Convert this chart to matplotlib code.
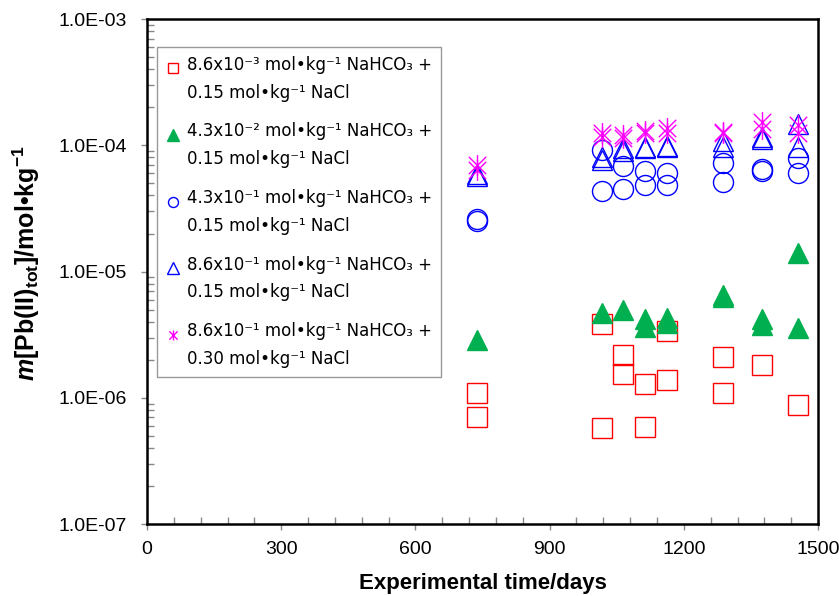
import numpy as np
import matplotlib
matplotlib.use("Agg")
import matplotlib.pyplot as plt
from matplotlib.path import Path
from matplotlib.legend_handler import HandlerLine2D
from matplotlib.lines import Line2D
from matplotlib.ticker import FixedLocator, FuncFormatter, LogLocator, NullFormatter

plt.rcParams['font.family'] = ['Liberation Sans', 'DejaVu Sans']
plt.rcParams['mathtext.fontset'] = 'custom'
plt.rcParams['mathtext.rm'] = 'Liberation Sans:bold'
plt.rcParams['mathtext.it'] = 'Liberation Sans:bold:italic'
plt.rcParams['mathtext.bf'] = 'Liberation Sans:bold'

# data: days, m[Pb(II)]tot in mol/kg
days_a = [737, 737, 1016, 1016, 1065, 1065, 1113, 1113, 1162, 1162, 1288, 1288, 1374, 1456]
pb_a = [1.10e-6, 7.0e-7, 3.82e-6, 5.76e-7, 2.18e-6, 1.55e-6, 1.29e-6, 5.87e-7,
        3.40e-6, 1.39e-6, 2.10e-6, 1.09e-6, 1.83e-6, 8.8e-7]

days_b = [737, 1016, 1065, 1113, 1113, 1162, 1162, 1288, 1288, 1374, 1374, 1456, 1456]
pb_b = [2.87e-6, 4.72e-6, 4.95e-6, 4.2e-6, 3.61e-6, 4.26e-6, 3.93e-6, 6.52e-6,
        6.24e-6, 4.18e-6, 3.77e-6, 3.55e-6, 1.39e-5]

days_c = [737, 737, 1016, 1016, 1065, 1065, 1113, 1113, 1162, 1162, 1288, 1288, 1374, 1374, 1456, 1456]
pb_c = [2.59e-5, 2.52e-5, 9.17e-5, 4.34e-5, 6.85e-5, 4.48e-5, 6.29e-5, 4.84e-5,
        6.06e-5, 4.84e-5, 7.19e-5, 5.09e-5, 6.45e-5, 6.29e-5, 7.88e-5, 6.06e-5]

days_d = [737, 737, 1016, 1016, 1065, 1065, 1113, 1113, 1162, 1162, 1288, 1288, 1374, 1374, 1456, 1456]
pb_d = [5.9e-5, 5.7e-5, 8.12e-5, 7.64e-5, 9.51e-5, 9.06e-5, 9.75e-5, 9.46e-5,
        9.93e-5, 9.64e-5, 1.08e-4, 9.75e-5, 1.16e-4, 1.12e-4, 1.47e-4, 9.75e-5]

days_e = [737, 737, 1016, 1016, 1065, 1065, 1113, 1113, 1162, 1162, 1288, 1288, 1374, 1374, 1456, 1456]
pb_e = [7.0e-5, 6.4e-5, 1.24e-4, 1.16e-4, 1.21e-4, 1.15e-4, 1.30e-4, 1.24e-4,
        1.36e-4, 1.24e-4, 1.28e-4, 1.24e-4, 1.54e-4, 1.34e-4, 1.45e-4, 1.24e-4]

labels = [
    "8.6x10\u207b\u00b3 mol\u2022kg\u207b\u00b9 NaHCO\u2083 +\n0.15 mol\u2022kg\u207b\u00b9 NaCl",
    "4.3x10\u207b\u00b2 mol\u2022kg\u207b\u00b9 NaHCO\u2083 +\n0.15 mol\u2022kg\u207b\u00b9 NaCl",
    "4.3x10\u207b\u00b9 mol\u2022kg\u207b\u00b9 NaHCO\u2083 +\n0.15 mol\u2022kg\u207b\u00b9 NaCl",
    "8.6x10\u207b\u00b9 mol\u2022kg\u207b\u00b9 NaHCO\u2083 +\n0.15 mol\u2022kg\u207b\u00b9 NaCl",
    "8.6x10\u207b\u00b9 mol\u2022kg\u207b\u00b9 NaHCO\u2083 +\n0.30 mol\u2022kg\u207b\u00b9 NaCl",
]

# asterisk like marker: an x plus a vertical bar
star = Path([(-1, -1), (1, 1), (-1, 1), (1, -1), (0, -1.2), (0, 1.2)],
            [Path.MOVETO, Path.LINETO, Path.MOVETO, Path.LINETO, Path.MOVETO, Path.LINETO])

green = '#00B050'
styles = [
    dict(marker='s', mfc='none', mec='#FF0000', ms=14.4, mew=1.0),
    dict(marker='^', mfc=green, mec=green, ms=15, mew=1.0),
    dict(marker='o', mfc='none', mec='#0000FF', ms=14.4, mew=1.0),
    dict(marker='^', mfc='none', mec='#0000FF', ms=15, mew=1.0),
    dict(marker=star, mfc='none', mec='#FF00FF', ms=15, mew=1.0),
]


class TopLineHandler(HandlerLine2D):
    # put the legend marker next to the first line of a two-line label
    def create_artists(self, legend, orig_handle, xdescent, ydescent, width, height, fontsize, trans):
        arts = super().create_artists(legend, orig_handle, xdescent, ydescent, width, height, fontsize, trans)
        for a in arts:
            a.set_ydata(np.asarray(a.get_ydata()) + 0.68 * fontsize)
        return arts


fig = plt.figure(figsize=(8.39, 5.96), dpi=100)
ax = fig.add_axes([0.1752, 0.1208, 0.7998, 0.8473])

series = [(days_a, pb_a), (days_b, pb_b), (days_c, pb_c), (days_d, pb_d), (days_e, pb_e)]
for (d, v), st in zip(series, styles):
    ax.plot(d, v, linestyle='none', **st)

ax.set_yscale('log')
ax.set_xlim(0, 1500)
ax.set_ylim(1e-7, 1e-3)

ax.xaxis.set_major_locator(FixedLocator([0, 300, 600, 900, 1200, 1500]))
ax.xaxis.set_minor_locator(FixedLocator(np.arange(0, 1501, 60)))
ax.yaxis.set_major_locator(LogLocator(base=10, numticks=10))
ax.yaxis.set_minor_locator(LogLocator(base=10, subs=np.arange(2, 10), numticks=20))
ax.yaxis.set_major_formatter(FuncFormatter(lambda v, p: f"{v:.1E}"))
ax.yaxis.set_minor_formatter(NullFormatter())

ax.tick_params(which='major', direction='out', length=4, width=1, color='#888888',
               labelsize=14)
ax.tick_params(which='minor', direction='in', length=5, width=1, color='#888888')
ax.tick_params(axis='x', which='major', pad=8)
ax.tick_params(axis='y', which='major', pad=10.5)
for s in ax.spines.values():
    s.set_linewidth(1.8)
    s.set_color('black')

ax.set_xlabel('Experimental time/days', fontsize=16, fontweight='bold', labelpad=11)
fig.text(26 / 839, 1 - 263 / 596, r'$m$[Pb(II)$_{\mathrm{tot}}$]/mol•kg$^{\mathrm{-1}}$',
         rotation=90, ha='center', va='center', fontsize=18, fontweight='bold')

handles = [Line2D([], [], linestyle='none', **dict(st, ms=7.2 if st['marker'] != '^' else 8.5))
           for st in styles]
leg = ax.legend(handles, labels, loc='upper left', bbox_to_anchor=(0.0149, 0.9455),
                prop={'family': 'DejaVu Sans', 'size': 12}, frameon=True, fancybox=False,
                edgecolor='#999999', framealpha=1, borderpad=0.55, labelspacing=1.25,
                handlelength=0.8, handletextpad=0.45, borderaxespad=0,
                handler_map={Line2D: TopLineHandler()})
leg.get_frame().set_linewidth(1.0)
for t in leg.get_texts():
    t.set_linespacing(1.7)

fig.savefig('out.png', dpi=100)
